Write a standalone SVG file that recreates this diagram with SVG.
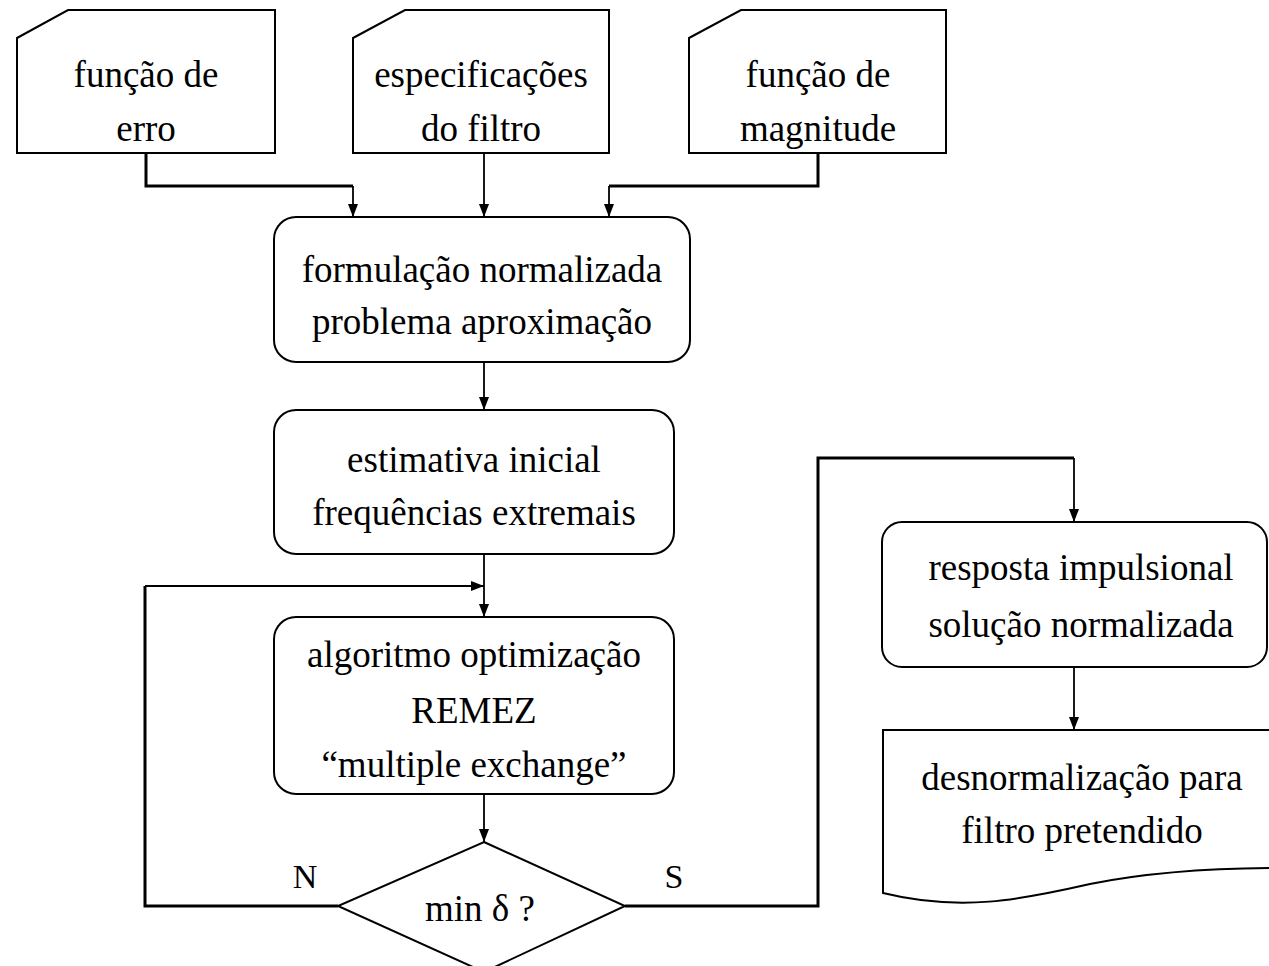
<svg xmlns="http://www.w3.org/2000/svg" width="1269" height="966" viewBox="0 0 1269 966">
<style>
.shape{fill:#fff;stroke:#000;stroke-width:2}
.t{font-family:"Liberation Serif","Times New Roman",serif;font-size:37px;fill:#000;text-anchor:middle}
.thick{fill:none;stroke:#000;stroke-width:3}
.thin{fill:none;stroke:#000;stroke-width:1.8}
</style>
<defs>
<marker id="ah" markerUnits="userSpaceOnUse" markerWidth="13" markerHeight="11" refX="13" refY="5.5" orient="auto">
<path d="M0,0.5 L13,5.5 L0,10.5 z" fill="#000"/>
</marker>
</defs>
<rect width="1269" height="966" fill="#fff"/>
<g id="connectors">
<path class="thick" d="M146,153 V186 H353"/>
<path class="thin" d="M353,186 V217" marker-end="url(#ah)"/>
<path class="thin" d="M484,153 V217" marker-end="url(#ah)"/>
<path class="thick" d="M818,153 V186 H609"/>
<path class="thin" d="M609,186 V217" marker-end="url(#ah)"/>
<path class="thin" d="M484,362 V410" marker-end="url(#ah)"/>
<path class="thin" d="M484,554 V617" marker-end="url(#ah)"/>
<path class="thick" d="M338,906 H145 V586"/>
<path class="thin" d="M145,586 H484" marker-end="url(#ah)"/>
<path class="thin" d="M484,794 V842" marker-end="url(#ah)"/>
<path class="thick" d="M625,906 H818 V458 H1074"/>
<path class="thin" d="M1074,458 V522" marker-end="url(#ah)"/>
<path class="thin" d="M1074,667 V730" marker-end="url(#ah)"/>
<text class="t" x="305" y="888" style="font-size:34px">N</text>
<text class="t" x="674" y="888" style="font-size:34px">S</text>
</g>
<g id="card-erro">
<path class="shape" d="M17,38 L68,10 H275 V153 H17 Z"/>
<text class="t" x="146" y="87">função de</text>
<text class="t" x="146" y="141">erro</text>
</g>
<g id="card-especificacoes">
<path class="shape" d="M353,38 L405,10 H609 V153 H353 Z"/>
<text class="t" x="481" y="87">especificações</text>
<text class="t" x="481" y="141">do filtro</text>
</g>
<g id="card-magnitude">
<path class="shape" d="M689,38 L741,10 H946 V153 H689 Z"/>
<text class="t" x="818" y="87">função de</text>
<text class="t" x="818" y="141">magnitude</text>
</g>
<g id="formulacao">
<rect class="shape" x="274" y="217" width="416" height="145" rx="22" ry="22"/>
<text class="t" x="482" y="282">formulação normalizada</text>
<text class="t" x="482" y="334">problema aproximação</text>
</g>
<g id="estimativa">
<rect class="shape" x="274" y="410" width="400" height="144" rx="22" ry="22"/>
<text class="t" x="474" y="472">estimativa inicial</text>
<text class="t" x="474" y="525">frequências extremais</text>
</g>
<g id="remez">
<rect class="shape" x="274" y="617" width="400" height="177" rx="22" ry="22"/>
<text class="t" x="474" y="667">algoritmo optimização</text>
<text class="t" x="474" y="723">REMEZ</text>
<text class="t" x="474" y="777">“multiple exchange”</text>
</g>
<g id="decisao">
<path class="shape" d="M484,842 L625,906 L484,972 L338,906 Z"/>
<text class="t" x="480" y="921">min δ ?</text>
</g>
<g id="resposta">
<rect class="shape" x="882" y="522" width="385" height="145" rx="20" ry="20"/>
<text class="t" x="1081" y="580">resposta impulsional</text>
<text class="t" x="1081" y="637">solução normalizada</text>
</g>
<g id="desnormalizacao">
<path class="shape" d="M1280,730 H883 V893 C960,912 1020,900 1090,884 C1160,870 1230,868 1280,868"/>
<text class="t" x="1082" y="790">desnormalização para</text>
<text class="t" x="1082" y="843">filtro pretendido</text>
</g>
</svg>
